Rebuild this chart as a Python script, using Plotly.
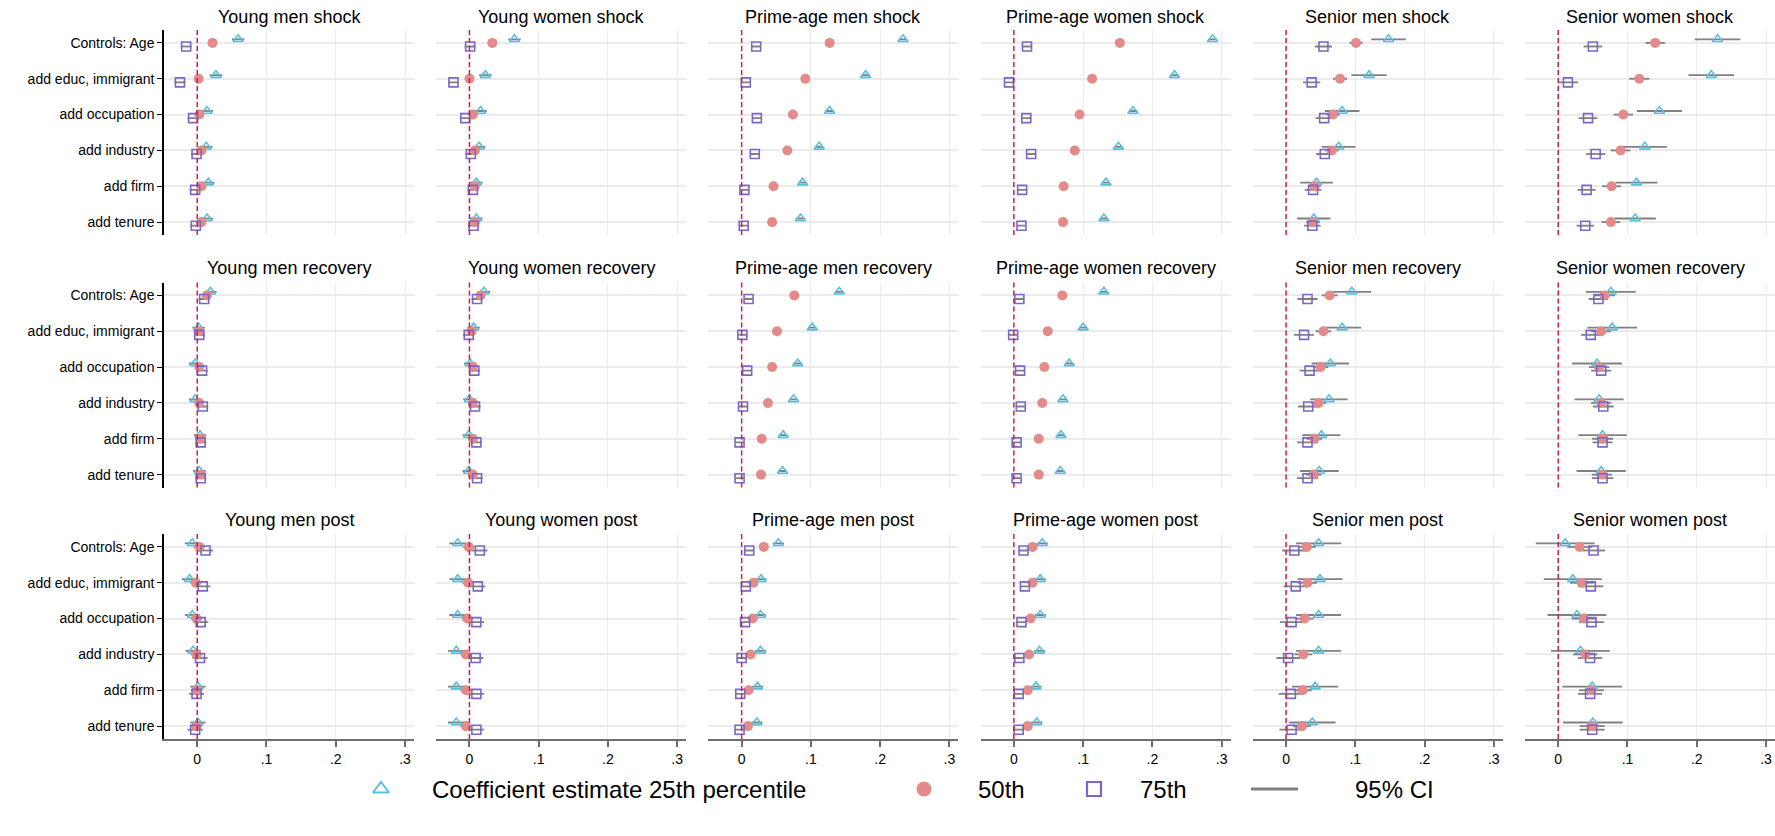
import plotly.graph_objects as go

# ---------------- data ----------------
CATEGORIES = ["Controls: Age", "add educ, immigrant", "add occupation",
              "add industry", "add firm", "add tenure"]

PANEL_TITLES = [
    "Young men shock", "Young women shock", "Prime-age men shock",
    "Prime-age women shock", "Senior men shock", "Senior women shock",
    "Young men recovery", "Young women recovery", "Prime-age men recovery",
    "Prime-age women recovery", "Senior men recovery", "Senior women recovery",
    "Young men post", "Young women post", "Prime-age men post",
    "Prime-age women post", "Senior men post", "Senior women post",
]

X_TICK_VALUES = [0, 0.1, 0.2, 0.3]
X_TICK_LABELS = ["0", ".1", ".2", ".3"]

LEGEND_LABELS = ["Coefficient estimate 25th percentile", "50th", "75th", "95% CI"]

# coefficient estimates, 25th percentile (one row per panel, categories in order)
P25 = [
    [0.059, 0.027, 0.014, 0.013, 0.016, 0.014],
    [0.065, 0.023, 0.016, 0.014, 0.010, 0.010],
    [0.233, 0.179, 0.127, 0.112, 0.088, 0.085],
    [0.287, 0.232, 0.172, 0.151, 0.133, 0.130],
    [0.148, 0.120, 0.081, 0.076, 0.044, 0.040],
    [0.230, 0.221, 0.146, 0.125, 0.113, 0.111],
    [0.019, 0.002, -0.003, -0.003, 0.004, 0.003],
    [0.021, 0.006, 0.001, 0.000, -0.001, -0.001],
    [0.141, 0.102, 0.081, 0.075, 0.060, 0.059],
    [0.130, 0.100, 0.080, 0.071, 0.068, 0.067],
    [0.095, 0.081, 0.064, 0.062, 0.051, 0.048],
    [0.076, 0.078, 0.056, 0.059, 0.064, 0.062],
    [-0.007, -0.011, -0.007, -0.006, 0.001, 0.001],
    [-0.017, -0.017, -0.017, -0.019, -0.019, -0.019],
    [0.053, 0.028, 0.027, 0.027, 0.023, 0.022],
    [0.041, 0.038, 0.038, 0.037, 0.032, 0.033],
    [0.047, 0.049, 0.047, 0.047, 0.042, 0.038],
    [0.010, 0.021, 0.027, 0.032, 0.049, 0.050],
]

# 50th percentile
P50 = [
    [0.022, 0.002, 0.003, 0.006, 0.006, 0.006],
    [0.033, 0.000, 0.005, 0.008, 0.008, 0.008],
    [0.127, 0.092, 0.074, 0.066, 0.046, 0.044],
    [0.153, 0.113, 0.095, 0.088, 0.072, 0.071],
    [0.101, 0.078, 0.068, 0.066, 0.041, 0.039],
    [0.140, 0.117, 0.094, 0.090, 0.077, 0.076],
    [0.014, 0.002, 0.003, 0.003, 0.005, 0.005],
    [0.016, 0.003, 0.005, 0.005, 0.005, 0.005],
    [0.076, 0.051, 0.044, 0.038, 0.029, 0.028],
    [0.070, 0.049, 0.044, 0.041, 0.036, 0.036],
    [0.063, 0.054, 0.050, 0.047, 0.041, 0.040],
    [0.067, 0.062, 0.059, 0.062, 0.064, 0.063],
    [0.003, -0.002, -0.001, -0.001, -0.001, -0.001],
    [-0.001, -0.002, -0.003, -0.005, -0.005, -0.005],
    [0.032, 0.017, 0.016, 0.013, 0.010, 0.009],
    [0.027, 0.027, 0.024, 0.022, 0.020, 0.020],
    [0.030, 0.031, 0.027, 0.025, 0.024, 0.023],
    [0.031, 0.034, 0.037, 0.039, 0.048, 0.049],
]

# 75th percentile
P75 = [
    [-0.016, -0.025, -0.006, -0.001, -0.003, -0.002],
    [0.001, -0.023, -0.006, 0.002, 0.005, 0.006],
    [0.021, 0.006, 0.022, 0.019, 0.004, 0.003],
    [0.019, -0.007, 0.018, 0.025, 0.012, 0.011],
    [0.054, 0.037, 0.055, 0.056, 0.039, 0.038],
    [0.050, 0.014, 0.043, 0.054, 0.041, 0.039],
    [0.010, 0.003, 0.007, 0.008, 0.005, 0.005],
    [0.011, -0.001, 0.007, 0.008, 0.010, 0.011],
    [0.010, 0.001, 0.008, 0.002, -0.003, -0.003],
    [0.008, -0.001, 0.009, 0.010, 0.004, 0.004],
    [0.031, 0.026, 0.034, 0.032, 0.031, 0.031],
    [0.058, 0.047, 0.062, 0.065, 0.064, 0.064],
    [0.012, 0.008, 0.005, 0.004, -0.001, -0.003],
    [0.015, 0.012, 0.010, 0.009, 0.010, 0.010],
    [0.011, 0.006, 0.005, 0.000, -0.002, -0.003],
    [0.014, 0.016, 0.011, 0.008, 0.007, 0.007],
    [0.012, 0.014, 0.008, 0.003, 0.007, 0.008],
    [0.051, 0.047, 0.048, 0.046, 0.046, 0.049],
]

# half-widths of the 95% confidence intervals
H25 = [
    [0.009] * 6, [0.009] * 6, [0.006] * 6, [0.006] * 6,
    [0.025, 0.0255, 0.025, 0.0245, 0.0235, 0.024],
    [0.033, 0.033, 0.0325, 0.032, 0.0305, 0.030],
    [0.009] * 6, [0.009] * 6, [0.006] * 6, [0.006] * 6,
    [0.028, 0.0275, 0.027, 0.027, 0.0275, 0.028],
    [0.036, 0.036, 0.036, 0.0355, 0.035, 0.0355],
    [0.011] * 6, [0.012] * 6, [0.008] * 6, [0.008] * 6,
    [0.0325, 0.0325, 0.0325, 0.0325, 0.0335, 0.0335],
    [0.0425, 0.042, 0.0425, 0.0425, 0.043, 0.043],
]
H50 = [
    [0.005] * 6, [0.005] * 6, [0.004] * 6, [0.004] * 6,
    [0.0095, 0.010, 0.0095, 0.010, 0.009, 0.010],
    [0.014, 0.0145, 0.014, 0.014, 0.0135, 0.0135],
    [0.006] * 6, [0.006] * 6, [0.004] * 6, [0.004] * 6,
    [0.0115, 0.011, 0.011, 0.011, 0.011, 0.011],
    [0.015, 0.0145, 0.0145, 0.0145, 0.015, 0.0145],
    [0.008] * 6, [0.008] * 6, [0.005] * 6, [0.005] * 6,
    [0.013, 0.0135, 0.013, 0.013, 0.013, 0.013],
    [0.018, 0.017, 0.0175, 0.0175, 0.018, 0.018],
]
H75 = [
    [0.008] * 6, [0.008] * 6, [0.006] * 6, [0.006] * 6,
    [0.0125, 0.0125, 0.0125, 0.0125, 0.012, 0.012],
    [0.0135, 0.0145, 0.0135, 0.014, 0.013, 0.0125],
    [0.008] * 6, [0.008] * 6, [0.006] * 6, [0.006] * 6,
    [0.0145, 0.0145, 0.0145, 0.0145, 0.015, 0.015],
    [0.014, 0.014, 0.0145, 0.015, 0.0145, 0.0155],
    [0.011] * 6, [0.011] * 6, [0.007] * 6, [0.007] * 6,
    [0.0175, 0.0175, 0.017, 0.017, 0.0175, 0.0175],
    [0.0165, 0.018, 0.018, 0.0175, 0.0175, 0.018],
]

# ---------------- styling / layout ----------------
W, H = 1775, 836
FONT = "Liberation Sans, Arial, Helvetica, sans-serif"
C25 = "#5BC0DE"
C50 = "#E38A8A"
C75 = "#7B66C9"
CCI = "#808080"
CZERO = "#D81B4A"
GRID = "#EBEBEB"
X_RANGE = [-0.048, 0.313]
Y_RANGE = [5.36, -0.36]

COL_LEFT = [164 + 272.2 * c for c in range(6)]
PANEL_W = 250
ROW_TOP = [30, 282.5, 534]
ROW_H = 205
TITLE_Y = [17, 268, 520]

SERIES = [
    (P25, H25, -0.1, dict(symbol="triangle-up-open", size=9, color=C25, line=dict(color=C25, width=1.6))),
    (P50, H50, 0.0, dict(symbol="circle", size=10, color=C50, line=dict(width=0))),
    (P75, H75, 0.1, dict(symbol="square-open", size=9, color=C75, line=dict(color=C75, width=1.6))),
]

fig = go.Figure()
layout = dict(
    width=W, height=H,
    margin=dict(l=0, r=0, t=0, b=0, pad=0),
    paper_bgcolor="white", plot_bgcolor="white",
    font=dict(family=FONT, color="black"),
    showlegend=False,
    shapes=[], annotations=[],
)

for k, title in enumerate(PANEL_TITLES):
    r, c = divmod(k, 6)
    n = k + 1
    xa = "x" if n == 1 else f"x{n}"
    ya = "y" if n == 1 else f"y{n}"
    xkey = "xaxis" if n == 1 else f"xaxis{n}"
    ykey = "yaxis" if n == 1 else f"yaxis{n}"
    x0 = COL_LEFT[c] / W
    x1 = (COL_LEFT[c] + PANEL_W) / W
    y1 = 1 - ROW_TOP[r] / H
    y0 = 1 - (ROW_TOP[r] + ROW_H) / H

    bottom = (r == 2)
    layout[xkey] = dict(
        domain=[x0, x1], anchor=ya, range=X_RANGE,
        tickvals=X_TICK_VALUES, ticktext=X_TICK_LABELS,
        showgrid=True, gridcolor=GRID, gridwidth=1, zeroline=False,
        showticklabels=bottom, ticks="outside" if bottom else "",
        ticklen=6, tickwidth=1.5, tickcolor="#6E6E6E",
        showline=bottom, linecolor="#6E6E6E", linewidth=2,
        tickfont=dict(size=14, color="black", family=FONT),
    )
    first = (c == 0)
    layout[ykey] = dict(
        domain=[y0, y1], anchor=xa, range=Y_RANGE,
        tickvals=list(range(len(CATEGORIES))), ticktext=CATEGORIES,
        showgrid=True, gridcolor=GRID, gridwidth=1.5, zeroline=False,
        showticklabels=first, ticks="outside" if first else "",
        ticklen=5, tickwidth=1, tickcolor="black",
        showline=first, linecolor="black", linewidth=1.5,
        tickfont=dict(size=14, color="black", family=FONT),
    )

    # zero reference line
    layout["shapes"].append(dict(
        type="line", xref=xa, yref=f"{ya} domain", x0=0, x1=0, y0=0, y1=1,
        line=dict(color=CZERO, width=1.5, dash="5px,3px"), layer="above",
    ))

    # panel title
    layout["annotations"].append(dict(
        text=title, xref="paper", yref="paper",
        x=(x0 + x1) / 2, y=1 - TITLE_Y[r] / H, xanchor="center", yanchor="middle",
        showarrow=False, font=dict(size=18, color="black", family=FONT),
    ))

    # confidence intervals
    for vals, halves, off, _ in SERIES:
        cx, cy = [], []
        for i, (v, h) in enumerate(zip(vals[k], halves[k])):
            cx += [v - h, v + h, None]
            cy += [i + off, i + off, None]
        fig.add_trace(go.Scatter(x=cx, y=cy, mode="lines", xaxis=xa, yaxis=ya,
                                 line=dict(color=CCI, width=1.8), hoverinfo="skip"))
    # point estimates
    for vals, halves, off, mk in SERIES:
        fig.add_trace(go.Scatter(
            x=vals[k], y=[i + off for i in range(len(CATEGORIES))],
            mode="markers", xaxis=xa, yaxis=ya, marker=mk,
        ))

# ---------------- legend (drawn on its own hidden axis) ----------------
LEG_SYMBOL_X = [381, 924, 1094]
LEG_TEXT_X = [430, 976, 1138, 1353]
LEG_LINE_X = [1251, 1298]
LEG_Y_PX = 789
leg_y_paper = 1 - LEG_Y_PX / H
layout["xaxis19"] = dict(domain=[0, 1], range=[0, W], visible=False, fixedrange=True, anchor="y19")
layout["yaxis19"] = dict(domain=[leg_y_paper - 0.02, leg_y_paper + 0.02],
                         range=[-1, 1], autorange=False, visible=False, fixedrange=True, anchor="x19")
leg_markers = [
    dict(symbol="triangle-up-open", size=14, color=C25, line=dict(color=C25, width=2)),
    dict(symbol="circle", size=15, color=C50, line=dict(width=0)),
    dict(symbol="square-open", size=14, color=C75, line=dict(color=C75, width=2.2)),
]
for xs, mk in zip(LEG_SYMBOL_X, leg_markers):
    fig.add_trace(go.Scatter(x=[xs], y=[0], mode="markers", marker=mk, cliponaxis=False,
                             xaxis="x19", yaxis="y19", hoverinfo="skip"))
fig.add_trace(go.Scatter(x=LEG_LINE_X, y=[0, 0], mode="lines", cliponaxis=False,
                         line=dict(color=CCI, width=3), xaxis="x19", yaxis="y19", hoverinfo="skip"))
for tx, label in zip(LEG_TEXT_X, LEGEND_LABELS):
    layout["annotations"].append(dict(
        text=label, xref="x19", yref="paper", x=tx, y=leg_y_paper,
        xanchor="left", yanchor="middle", showarrow=False,
        font=dict(size=24, color="black", family=FONT),
    ))

fig.update_layout(**layout)
fig.write_html("out.html")
